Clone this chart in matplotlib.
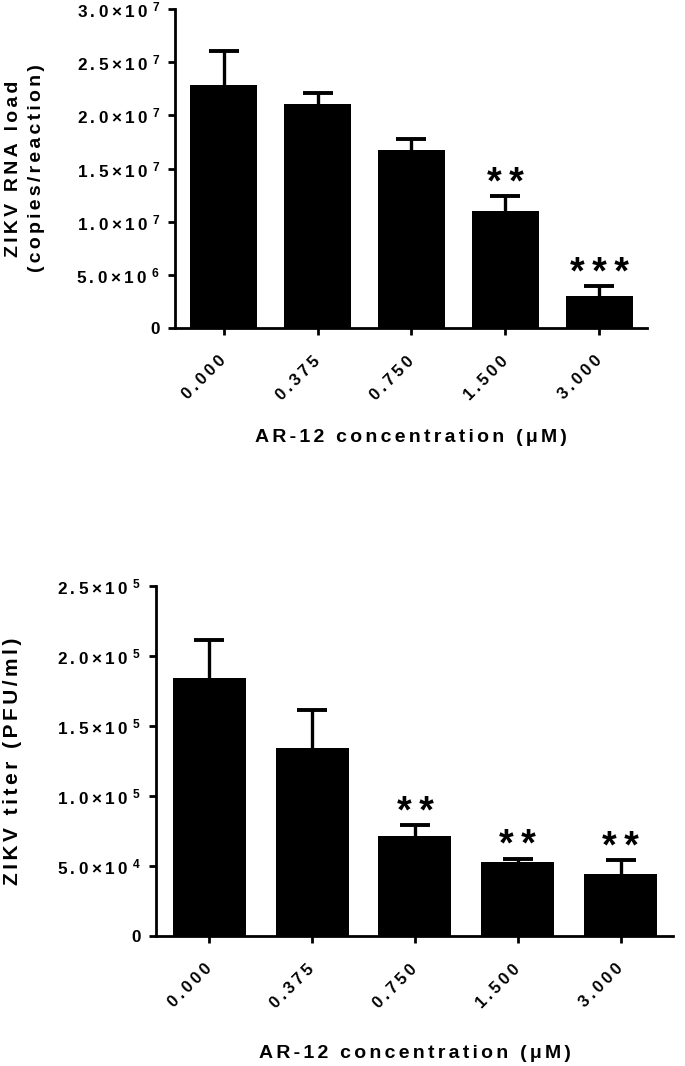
import numpy as np
import matplotlib
matplotlib.use("Agg")
import matplotlib.pyplot as plt

# ---------------- data ----------------
concentrations = ["0.000", "0.375", "0.750", "1.500", "3.000"]

rna_mean = [2.285e7, 2.104e7, 1.674e7, 1.103e7, 0.304e7]
rna_err = [0.323e7, 0.109e7, 0.101e7, 0.141e7, 0.094e7]
rna_sig = ["", "", "", "**", "***"]
rna_ticks = [0, 5e6, 1e7, 1.5e7, 2e7, 2.5e7, 3e7]
rna_ticklabels = [("0", None), ("5.0×10", "6"), ("1.0×10", "7"), ("1.5×10", "7"),
                  ("2.0×10", "7"), ("2.5×10", "7"), ("3.0×10", "7")]

titer_mean = [1.843e5, 1.345e5, 7.12e4, 5.29e4, 4.45e4]
titer_err = [0.271e5, 0.271e5, 0.83e4, 0.24e4, 0.98e4]
titer_sig = ["", "", "**", "**", "**"]
titer_ticks = [0, 5e4, 1e5, 1.5e5, 2e5, 2.5e5]
titer_ticklabels = [("0", None), ("5.0×10", "4"), ("1.0×10", "5"), ("1.5×10", "5"),
                    ("2.0×10", "5"), ("2.5×10", "5")]

xlabel_text = "AR-12 concentration (μM)"
ylabel_top = ["ZIKV RNA load", "(copies/reaction)"]
ylabel_bottom = "ZIKV titer (PFU/ml)"

# ---------------- style ----------------
FAM = ["Liberation Sans", "DejaVu Sans"]
plt.rcParams["font.family"] = FAM
plt.rcParams["font.weight"] = "bold"
plt.rcParams["mathtext.fontset"] = "custom"
plt.rcParams["mathtext.rm"] = "Liberation Sans:bold"
plt.rcParams["mathtext.bf"] = "Liberation Sans:bold"
plt.rcParams["mathtext.it"] = "Liberation Sans:bold"
plt.rcParams["mathtext.default"] = "rm"

W, H = 685, 1066
fig = plt.figure(figsize=(W / 100, H / 100), dpi=100)

TICK_GAP = "\u2009"
LABEL_GAP = "\u200a\u200a"


def spaced(s, gap=TICK_GAP):
    return gap.join(list(s))


def fmt_tick(base, exp):
    if exp is None:
        return base
    return spaced(base) + "\u2009\u200a" + r"$^{" + exp + "}$"


def draw(ax, means, errs, sig, ticks, ticklabels, width, xlab_y):
    x = np.arange(len(means))
    ax.bar(x, means, width=width, color="black", edgecolor="none", zorder=3)
    res = ax.errorbar(x, means, yerr=[np.zeros(len(errs)), errs], fmt="none",
                      ecolor="black", elinewidth=2.4, capsize=11, capthick=2.8,
                      zorder=2)
    caps = res[1]
    if len(caps) == 2:
        caps[0].set_visible(False)
    for xi, m, e, s in zip(x, means, errs, sig):
        if s:
            ax.annotate(spaced(s, "\u2009"), xy=(xi, m + e), xytext=(0, 1.5),
                        textcoords="offset points", ha="center", va="baseline",
                        fontsize=27, fontweight="heavy", zorder=4)
    ax.set_xlim(-0.518, len(means) - 1 + 0.51)
    ax.set_ylim(0, ticks[-1])
    ax.set_yticks(ticks)
    ax.set_yticklabels([fmt_tick(b, e) for b, e in ticklabels], fontsize=12.3,
                       fontweight="bold")
    ax.set_xticks(x)
    ax.set_xticklabels([spaced(c) for c in concentrations], rotation=45,
                       ha="right", va="center", rotation_mode="anchor",
                       fontsize=12, fontweight="bold")
    for sp in ["top", "right"]:
        ax.spines[sp].set_visible(False)
    for sp in ["left", "bottom"]:
        ax.spines[sp].set_linewidth(2.0)
    ax.tick_params(axis="both", direction="out", length=5, width=2.0)
    ax.tick_params(axis="y", pad=6)
    ax.tick_params(axis="x", pad=17)
    ax.set_xlabel(spaced(xlabel_text, LABEL_GAP), fontsize=14, fontweight="bold")
    ax.xaxis.set_label_coords(0.5, xlab_y)
    ax.xaxis.label.set_va("center")


ax1 = fig.add_axes([175 / W, 1 - 328 / H, (647 - 175) / W, (328 - 9) / H])
draw(ax1, rna_mean, rna_err, rna_sig, rna_ticks, rna_ticklabels, 0.713,
     -(437 - 328) / 319)
ax1.set_ylabel(spaced(ylabel_top[0], LABEL_GAP) + "\n" + spaced(ylabel_top[1], LABEL_GAP),
               fontsize=14, fontweight="bold", linespacing=1.45)
ax1.yaxis.set_label_coords(-(175 - 25) / 472, 0.5)
ax1.yaxis.label.set_va("center")

ax2 = fig.add_axes([156 / W, 1 - 936 / H, (673 - 156) / W, (936 - 586) / H])
draw(ax2, titer_mean, titer_err, titer_sig, titer_ticks, titer_ticklabels, 0.711,
     -(1054 - 936) / 350)
ax2.set_ylabel(spaced(ylabel_bottom, LABEL_GAP), fontsize=15, fontweight="bold")
ax2.yaxis.set_label_coords(-(156 - 13) / 517, 0.5)
ax2.yaxis.label.set_va("center")

fig.savefig("out.png", dpi=100)
